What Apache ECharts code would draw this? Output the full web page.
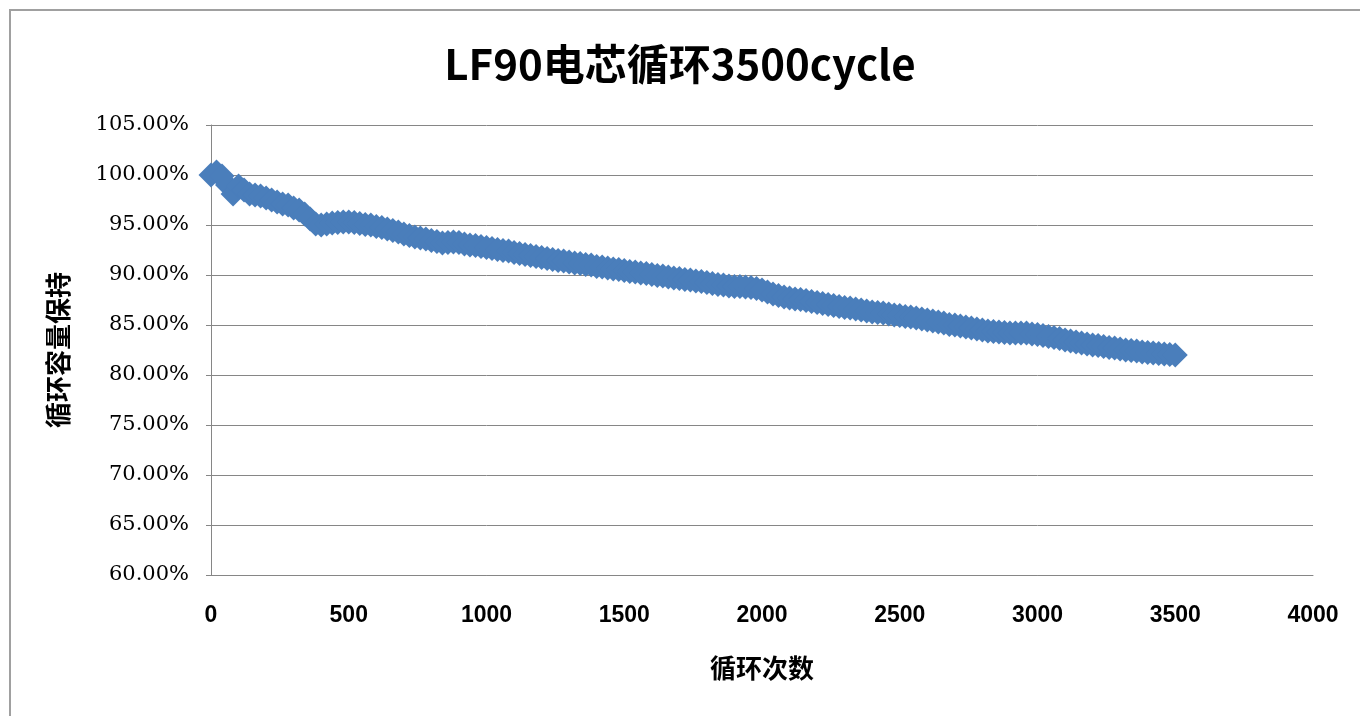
<!DOCTYPE html>
<html>
<head>
<meta charset="utf-8">
<script src="https://cdn.jsdelivr.net/npm/echarts@6/dist/echarts.min.js"></script>
<style>
html,body{margin:0;padding:0;background:#fff;}
#chart{width:1360px;height:716px;}
</style>
</head>
<body>
<div id="chart"></div>
<script>
const titleText = 'LF90电芯循环3500cycle';
const xAxisName = '循环次数';
const yAxisName = '循环容量保持';
const xTicks = [0, 500, 1000, 1500, 2000, 2500, 3000, 3500, 4000];
const yTicks = [60, 65, 70, 75, 80, 85, 90, 95, 100, 105];

const cycles = [
  0, 20, 40, 60, 80, 100, 120, 140, 160, 180,
  200, 220, 240, 260, 280, 300, 320, 340, 360, 380,
  400, 420, 440, 460, 480, 500, 520, 540, 560, 580,
  600, 620, 640, 660, 680, 700, 720, 740, 760, 780,
  800, 820, 840, 860, 880, 900, 920, 940, 960, 980,
  1000, 1020, 1040, 1060, 1080, 1100, 1120, 1140, 1160, 1180,
  1200, 1220, 1240, 1260, 1280, 1300, 1320, 1340, 1360, 1380,
  1400, 1420, 1440, 1460, 1480, 1500, 1520, 1540, 1560, 1580,
  1600, 1620, 1640, 1660, 1680, 1700, 1720, 1740, 1760, 1780,
  1800, 1820, 1840, 1860, 1880, 1900, 1920, 1940, 1960, 1980,
  2000, 2020, 2040, 2060, 2080, 2100, 2120, 2140, 2160, 2180,
  2200, 2220, 2240, 2260, 2280, 2300, 2320, 2340, 2360, 2380,
  2400, 2420, 2440, 2460, 2480, 2500, 2520, 2540, 2560, 2580,
  2600, 2620, 2640, 2660, 2680, 2700, 2720, 2740, 2760, 2780,
  2800, 2820, 2840, 2860, 2880, 2900, 2920, 2940, 2960, 2980,
  3000, 3020, 3040, 3060, 3080, 3100, 3120, 3140, 3160, 3180,
  3200, 3220, 3240, 3260, 3280, 3300, 3320, 3340, 3360, 3380,
  3400, 3420, 3440, 3460, 3480, 3500
];

const retention = [
  100.0, 100.3, 99.9, 99.0, 98.1, 98.9, 98.5, 98.1, 98.0, 97.9,
  97.7, 97.5, 97.3, 97.1, 97.0, 96.7, 96.5, 96.1, 95.6, 95.1,
  95.0, 95.1, 95.2, 95.25, 95.3, 95.3, 95.25, 95.15, 95.05, 95.0,
  94.85, 94.75, 94.6, 94.45, 94.3, 94.1, 93.95, 93.8, 93.7, 93.6,
  93.45, 93.35, 93.2, 93.25, 93.3, 93.25, 93.1, 93.0, 92.95, 92.85,
  92.75, 92.65, 92.55, 92.45, 92.4, 92.25, 92.15, 92.05, 91.95, 91.85,
  91.75, 91.65, 91.55, 91.45, 91.4, 91.3, 91.2, 91.15, 91.05, 91.0,
  90.85, 90.8, 90.7, 90.6, 90.55, 90.45, 90.35, 90.3, 90.2, 90.15,
  90.05, 89.95, 89.9, 89.8, 89.7, 89.65, 89.55, 89.5, 89.4, 89.35,
  89.25, 89.15, 89.05, 89.0, 88.9, 88.85, 88.85, 88.8, 88.75, 88.65,
  88.5, 88.3, 88.1, 87.95, 87.8, 87.7, 87.6, 87.55, 87.45, 87.35,
  87.25, 87.15, 87.05, 86.95, 86.85, 86.75, 86.7, 86.6, 86.5, 86.4,
  86.3, 86.25, 86.2, 86.1, 86.0, 85.95, 85.85, 85.8, 85.7, 85.6,
  85.5, 85.4, 85.3, 85.2, 85.05, 85.0, 84.9, 84.8, 84.7, 84.6,
  84.5, 84.4, 84.35, 84.3, 84.25, 84.2, 84.2, 84.2, 84.2, 84.1,
  84.05, 83.95, 83.85, 83.75, 83.65, 83.5, 83.4, 83.3, 83.2, 83.1,
  83.0, 82.95, 82.85, 82.75, 82.7, 82.6, 82.5, 82.45, 82.4, 82.3,
  82.25, 82.2, 82.15, 82.1, 82.05, 82.0
];

const points = cycles.map((c, i) => [c, retention[i]]);

const chart = echarts.init(document.getElementById('chart'), null, {renderer: 'canvas'});
chart.setOption({
  animation: false,
  backgroundColor: '#ffffff',
  graphic: [{
    type: 'rect',
    shape: {x: 10, y: 10, width: 1400, height: 800},
    style: {fill: 'none', stroke: '#a0a0a0', lineWidth: 2},
    silent: true,
    z: -1
  }],
  title: {
    text: titleText,
    left: 'center',
    top: 38,
    textStyle: {
      fontFamily: '"Noto Sans CJK SC", sans-serif',
      fontSize: 42,
      fontWeight: 'bold',
      color: '#000'
    }
  },
  grid: {left: 211, right: 47, top: 125, bottom: 141, containLabel: false},
  xAxis: {
    type: 'value',
    min: xTicks[0],
    max: xTicks[xTicks.length - 1],
    interval: xTicks[1] - xTicks[0],
    name: xAxisName,
    nameLocation: 'middle',
    nameGap: 80,
    nameTextStyle: {
      fontFamily: '"Noto Sans CJK SC", sans-serif',
      fontSize: 26,
      fontWeight: 'bold',
      color: '#000'
    },
    axisLine: {show: true, lineStyle: {color: '#868686', width: 1}},
    axisTick: {show: false},
    splitLine: {show: false},
    axisLabel: {
      margin: 29,
      fontFamily: '"Liberation Sans", Arial, sans-serif',
      fontWeight: 'bold',
      fontSize: 23,
      color: '#000',
      formatter: v => String(v)
    }
  },
  yAxis: {
    type: 'value',
    min: yTicks[0],
    max: yTicks[yTicks.length - 1],
    interval: yTicks[1] - yTicks[0],
    name: yAxisName,
    nameLocation: 'middle',
    nameRotate: 90,
    nameGap: 140,
    nameTextStyle: {
      fontFamily: '"Noto Sans CJK SC", sans-serif',
      fontSize: 26,
      fontWeight: 'bold',
      color: '#000'
    },
    axisLine: {show: true, lineStyle: {color: '#868686', width: 1}},
    axisTick: {show: true, inside: false, length: 5, lineStyle: {color: '#868686'}},
    splitLine: {show: true, lineStyle: {color: '#868686', width: 1}},
    axisLabel: {
      margin: 22,
      fontFamily: '"DejaVu Serif", serif',
      fontSize: 21,
      color: '#000',
      formatter: v => v.toFixed(2) + '%'
    }
  },
  series: [{
    type: 'scatter',
    data: points,
    symbol: 'diamond',
    symbolSize: [25, 25],
    itemStyle: {color: '#4a7ebb', opacity: 1},
    z: 3
  }]
});
</script>
</body>
</html>
